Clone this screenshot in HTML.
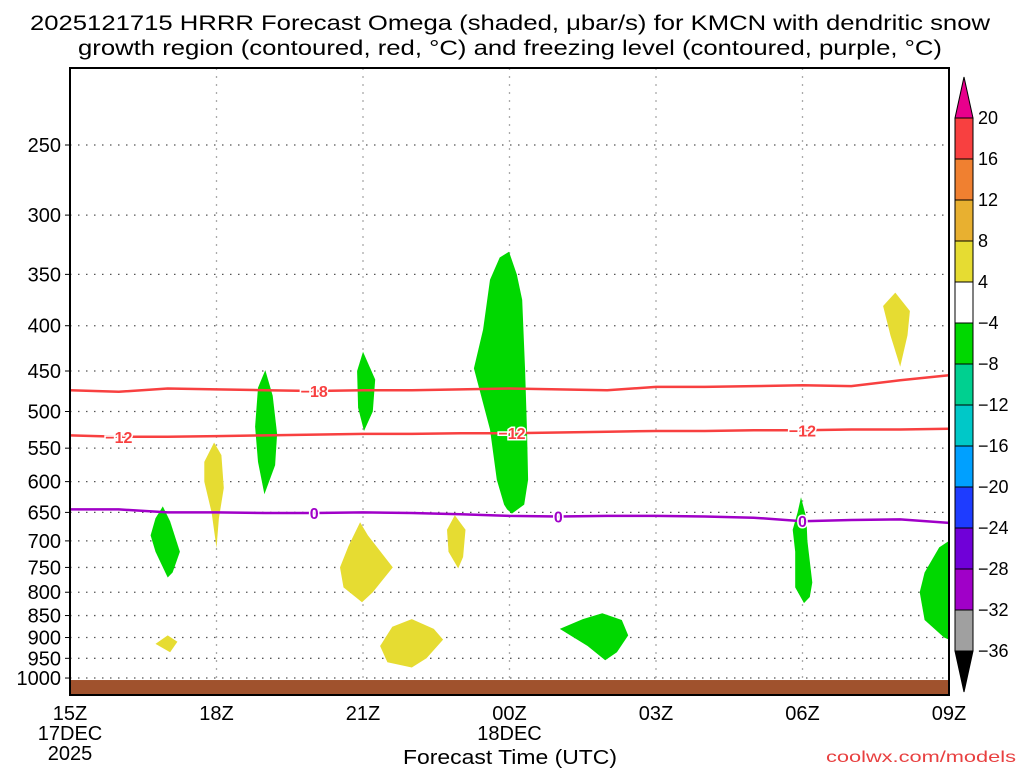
<!DOCTYPE html>
<html><head><meta charset="utf-8"><style>
html,body{margin:0;padding:0;background:#fff;}
svg{display:block;font-family:"Liberation Sans",sans-serif;}
</style></head><body>
<svg id="chart" width="1024" height="768" viewBox="0 0 1024 768">
<text x="510" y="30" font-size="21" text-anchor="middle" textLength="960" lengthAdjust="spacingAndGlyphs">2025121715 HRRR Forecast Omega (shaded, μbar/s) for KMCN with dendritic snow</text>
<text x="510" y="55" font-size="21" text-anchor="middle" textLength="864" lengthAdjust="spacingAndGlyphs">growth region (contoured, red, °C) and freezing level (contoured, purple, °C)</text>
<g id="grid"></g>
<g id="blobs"></g>
<g id="contours"></g>
<g id="axes"></g>
<g id="cbar"></g>
<text x="510" y="764" font-size="20" text-anchor="middle" textLength="214" lengthAdjust="spacingAndGlyphs">Forecast Time (UTC)</text>
<text x="1016" y="762" font-size="16" text-anchor="end" fill="#e84040" textLength="190" lengthAdjust="spacingAndGlyphs">coolwx.com/models</text>
</svg>
<script>
const pTicks=[250,300,350,400,450,500,550,600,650,700,750,800,850,900,950,1000];
const hTicks=[0,3,6,9,12,15,18];
const hLabels=["15Z","18Z","21Z","00Z","03Z","06Z","09Z"];
const hours=[0,1,2,3,4,5,6,7,8,9,10,11,12,13,14,15,16,17,18];
const c18=[473,475,471,472,473,474,473,473,472,471,472,473,469,469,468,467,468,461,455];
const c12=[532,534,534,533,532,531,530,530,529,529,528,527,526,526,525,525,524,524,523];
const c0=[645,645,650,650,651,651,650,651,653,656,657,656,656,657,659,665,663,662,668];
const cbLevels=[20,16,12,8,4,-4,-8,-12,-16,-20,-24,-28,-32,-36];
const cbColors=["#f84040","#f08030","#e8b030","#e6dc32","#ffffff","#00d800","#00d090","#00c8c8","#00a0ff","#1e3cff","#7000d8","#a000c8","#a0a0a0"];
const greenBlobs=[
 [[1.9,640],[2.05,665],[2.25,720],[2.1,760],[2.0,770],[1.75,720],[1.65,690],[1.75,660]],
 [[4.0,449],[4.15,480],[4.24,530],[4.2,575],[3.98,620],[3.85,570],[3.79,520],[3.85,470]],
 [[6.0,428],[6.25,460],[6.2,500],[6.02,526],[5.9,495],[5.88,450]],
 [[8.99,330],[9.15,350],[9.26,374],[9.32,449],[9.36,530],[9.38,597],[9.3,637],[9.05,652],[8.95,645],[8.89,637],[8.74,597],[8.6,524],[8.27,447],[8.46,404],[8.6,355],[8.8,335]],
 [[10.03,880],[10.5,858],[10.9,845],[11.3,860],[11.43,895],[11.2,935],[10.96,955],[10.6,920]],
 [[14.97,625],[15.08,660],[15.1,700],[15.2,780],[15.15,810],[15.03,823],[14.85,790],[14.85,720],[14.8,680],[14.9,650]],
 [[18,700],[17.8,712],[17.5,760],[17.4,800],[17.5,860],[17.9,900],[18,905]]
];
const yellowBlobs=[
 [[2.95,542],[3.1,560],[3.15,610],[3.05,660],[3.0,713],[2.9,650],[2.75,600],[2.75,570]],
 [[5.94,667],[6.1,690],[6.61,750],[6.2,800],[5.98,821],[5.6,790],[5.53,750],[5.7,710]],
 [[6.35,920],[6.6,875],[7.0,858],[7.45,880],[7.64,905],[7.3,950],[7.0,973],[6.5,960]],
 [[1.75,915],[2.0,895],[2.2,910],[2.05,935]],
 [[7.88,655],[8.1,680],[8.05,730],[7.95,752],[7.75,720],[7.72,680]],
 [[16.65,380],[16.9,367],[17.2,385],[17.15,410],[17.0,445],[16.8,410]]
];
const labels18=[5];const labels12=[1,9.05,15];const labels0=[5,10,15];
const NS="http://www.w3.org/2000/svg";
const L=70,R=949,T=68,B=695;
const X=h=>L+h*(R-L)/18;
const Y=p=>145+384.5*Math.log(p/250);
function mk(tag,attrs,parent){const e=document.createElementNS(NS,tag);for(const k in attrs)e.setAttribute(k,attrs[k]);parent.appendChild(e);return e;}
const grid=document.getElementById('grid'),blobs=document.getElementById('blobs'),cont=document.getElementById('contours'),axes=document.getElementById('axes'),cb=document.getElementById('cbar');
pTicks.forEach(p=>{
 const l=mk('line',{x1:L,x2:R,y1:Y(p),y2:Y(p),stroke:'#555','stroke-width':1.3,'stroke-dasharray':'1.5 6.5'},grid);
 
 
 const t=mk('text',{x:61,y:Y(p)+7,'font-size':20,'text-anchor':'end'},axes);t.textContent=p;
 
 
 const tk=mk('line',{x1:L-5,x2:L,y1:Y(p),y2:Y(p),stroke:'#000'},axes);
 
 
});
hTicks.forEach((h,i)=>{
 if(i>0&&i<hTicks.length-1){const l=mk('line',{x1:X(h),x2:X(h),y1:T,y2:B,stroke:'#aaa','stroke-width':1.3,'stroke-dasharray':'2 6'},grid);
 
 }
 const t=mk('text',{x:X(h),y:720,'font-size':20,'text-anchor':'middle'},axes);t.textContent=hLabels[i];
 
 
});
[['17DEC',0,740],['2025',0,760],['18DEC',9,740]].forEach(a=>{const t=mk('text',{x:X(a[1]),y:a[2],'font-size':20,'text-anchor':'middle'},axes);t.textContent=a[0];
 
 });
function poly(pts,fill,name){const d=pts.map((q,i)=>(i?'L':'M')+X(q[0]).toFixed(1)+','+Y(q[1]).toFixed(1)).join('')+'Z';
 const e=mk('path',{d:d,fill:fill},blobs);
 
 }
mk('clipPath',{id:'pc'},blobs).appendChild(document.createElementNS(NS,'rect'));
blobs.setAttribute('clip-path','url(#pc)');
const cr=blobs.querySelector('clipPath rect');cr.setAttribute('x',L);cr.setAttribute('y',T);cr.setAttribute('width',R-L);cr.setAttribute('height',B-T);
greenBlobs.forEach(b=>poly(b,'#00d800','upward-motion-area'));
yellowBlobs.forEach(b=>poly(b,'#e6dc32','downward-motion-area'));
const g=mk('rect',{x:L,y:Y(1000)+2,width:R-L,height:B-Y(1000)-2,fill:'#a0522d'},blobs);


function line(vals,color,name,labs,txt){
 const d=hours.map((h,i)=>(i?'L':'M')+X(h).toFixed(1)+','+Y(vals[i]).toFixed(1)).join('');
 const e=mk('path',{d:d,fill:'none',stroke:color,'stroke-width':2.5},cont);
 
 
 labs.forEach(h=>{const i=Math.floor(h),f=h-i;const v=vals[i]+(vals[Math.min(i+1,18)]-vals[i])*f;
  const t=mk('text',{x:X(h),y:Y(v)+6,'font-size':16,'font-weight':'bold','text-anchor':'middle',fill:color,stroke:'#fff','stroke-width':3,'paint-order':'stroke'},cont);t.textContent=txt;
  
  });
}
line(c18,'#f84040','contour-minus18',labels18,'−18');
line(c12,'#f84040','contour-minus12',labels12,'−12');
line(c0,'#a000c8','freezing-level-0',labels0,'0');
const f=mk('rect',{x:L,y:T,width:R-L,height:B-T,fill:'none',stroke:'#000','stroke-width':2},axes);


const CX=955,CW=18,CT=118,CS=41;
const CY=i=>CT+i*CS;
const up=mk('path',{d:`M${CX},${CY(0)}L${CX+CW/2},77L${CX+CW},${CY(0)}Z`,fill:'#e8008c',stroke:'#000'},cb);


cbColors.forEach((c,i)=>{const r=mk('rect',{x:CX,y:CY(i),width:CW,height:CS,fill:c,stroke:'#000'},cb);
 
 });
const dn=mk('path',{d:`M${CX},${CY(13)}L${CX+CW/2},692L${CX+CW},${CY(13)}Z`,fill:'#000',stroke:'#000'},cb);


cbLevels.forEach((v,i)=>{const t=mk('text',{x:978,y:CY(i)+6,'font-size':18},cb);t.textContent=v<0?'−'+(-v):v;
 
 });
</script>
</body></html>
